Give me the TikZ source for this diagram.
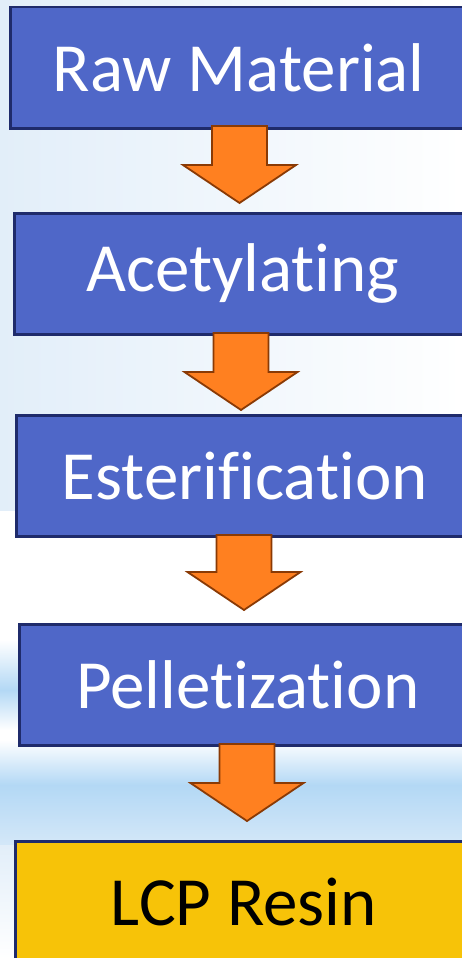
\documentclass[tikz,border=0pt]{standalone}
\usepackage{fontspec}
\setmainfont[Ligatures=CommonOff]{Carlito}
\definecolor{boxblue}{HTML}{4F67C8}
\definecolor{boxedge}{HTML}{1F2B6B}
\definecolor{resin}{HTML}{F7C308}
\definecolor{arrfill}{HTML}{FF8020}
\definecolor{arredge}{HTML}{8A3A05}
\definecolor{bgblue}{HTML}{E2EEF9}
\definecolor{bandblue}{HTML}{B3D8F5}
\tikzset{
  stepbox/.style={draw=boxedge, line width=2.5pt, fill=boxblue, text=white,
    minimum width=457pt, minimum height=121pt, inner sep=0pt, anchor=north west,
    font=\fontsize{69}{78}\selectfont},
  resinbox/.style={stepbox, fill=resin, text=black},
  arrowst/.style={draw=arredge, line width=1.8pt, fill=arrfill, line join=miter},
}
\newcommand\flowarrow[3]{%
  \draw[arrowst] (#1-27.5,#2) -- (#1+27.5,#2) -- (#1+27.5,#3-38) -- (#1+56.5,#3-38)
    -- (#1,#3) -- (#1-56.5,#3-38) -- (#1-27.5,#3-38) -- cycle;}
\begin{document}
\begin{tikzpicture}[x=1pt,y=-1pt]
\useasboundingbox (0,0) rectangle (462,958);
\begin{scope}
\clip (0,0) rectangle (462,958);
\fill[white] (0,0) rectangle (462,958);
\shade[left color=bgblue, right color=white] (0,0) rectangle (462,510);
\shade[top color=white, bottom color=bandblue] (0,640) rectangle (180,690);
\shade[top color=bandblue, bottom color=white] (0,690) rectangle (180,730);
\shade[top color=white, bottom color=bandblue] (0,740) rectangle (462,785);
\shade[top color=bandblue, bottom color=bgblue!70!bandblue] (0,785) rectangle (462,845);
\shade[top color=bgblue, bottom color=white] (0,845) rectangle (462,958);
\node[stepbox] (b1) at (9,6) {Raw Material};
\node[stepbox] (b2) at (13,212) {Acetylating};
\node[stepbox] (b3) at (15,414) {Esterification};
\node[stepbox] (b4) at (18,623) {Pelletization};
\node[resinbox] (b5) at (14,840) {LCP Resin};
\flowarrow{239.5}{126}{203}
\flowarrow{241}{333}{410}
\flowarrow{244}{535}{610}
\flowarrow{247}{744}{821}
\end{scope}
\end{tikzpicture}
\end{document}
